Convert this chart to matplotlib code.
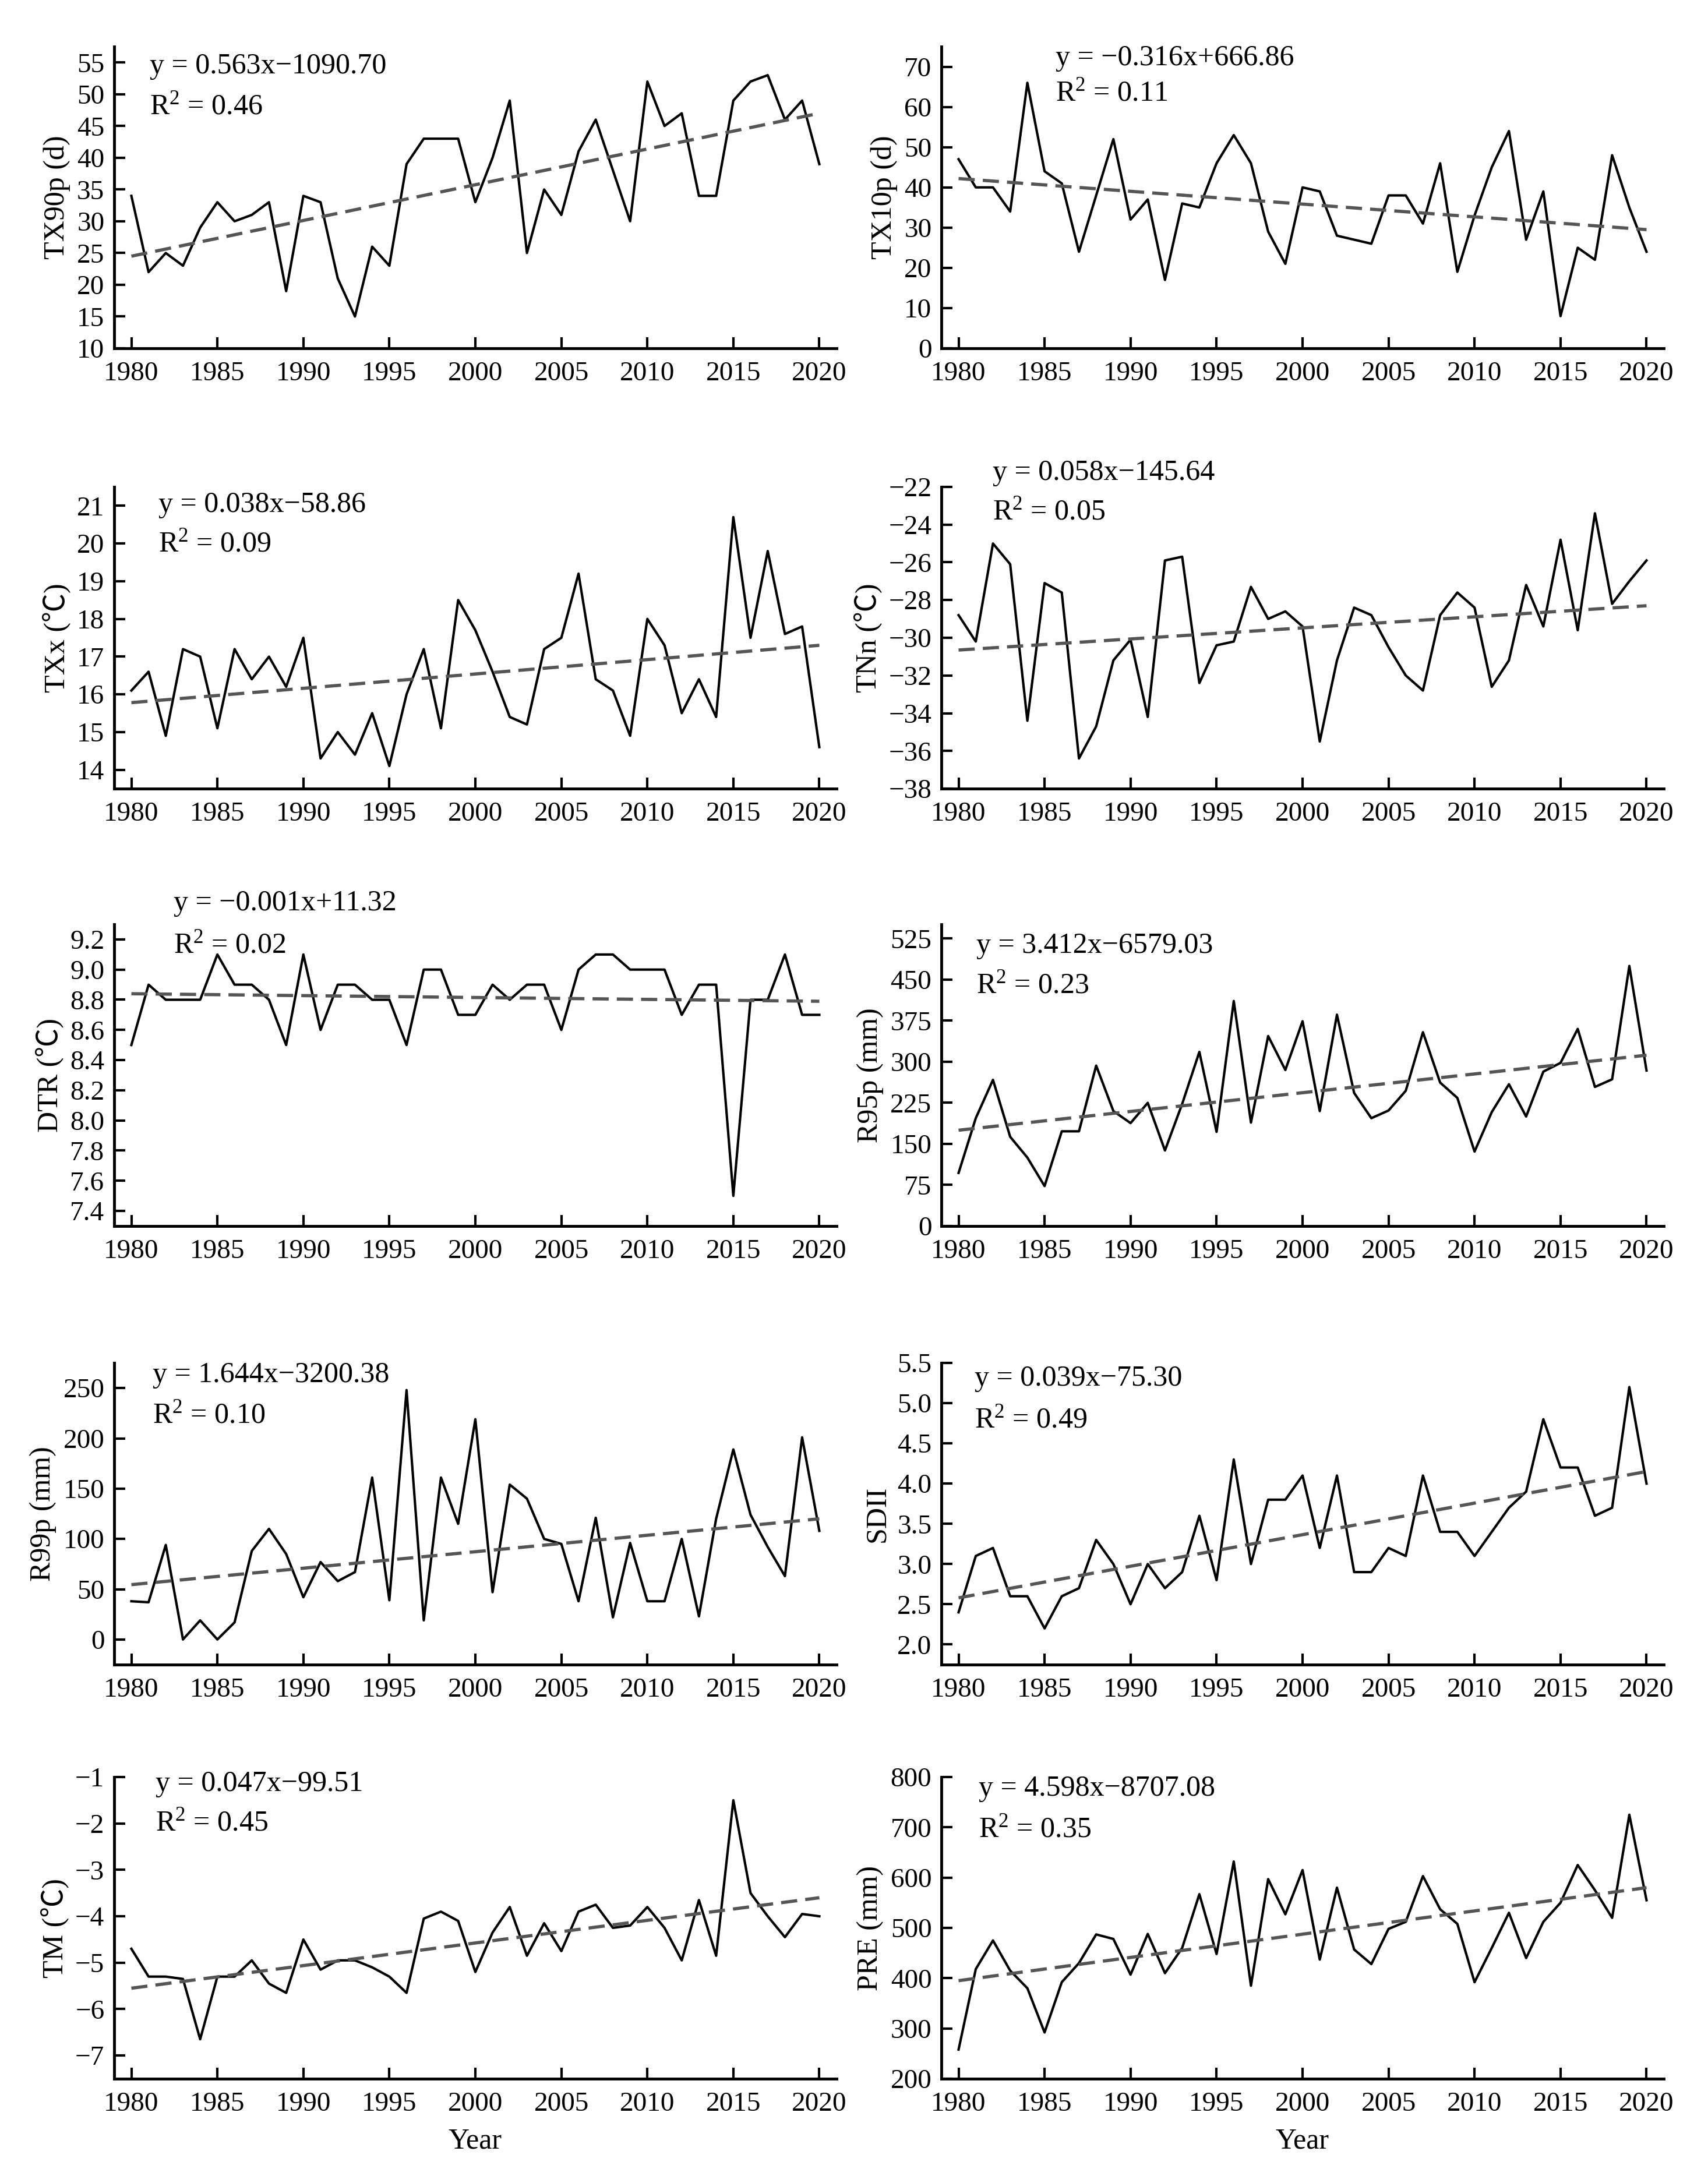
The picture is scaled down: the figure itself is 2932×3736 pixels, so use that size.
import numpy as np
import matplotlib
matplotlib.use("Agg")
import matplotlib.pyplot as plt

plt.rcParams["font.family"] = ["Liberation Serif", "Noto Sans CJK SC"]
plt.rcParams["axes.unicode_minus"] = True
plt.rcParams["mathtext.fontset"] = "custom"
plt.rcParams["mathtext.rm"] = "Liberation Serif"
plt.rcParams["mathtext.it"] = "Liberation Serif:italic"
plt.rcParams["mathtext.bf"] = "Liberation Serif:bold"

years = list(range(1980, 2021))

tx90p = [34, 22, 25, 23, 29, 33, 30, 31, 33, 19, 34, 33, 21, 15, 26, 23, 39, 43, 43, 43,
         33, 40, 49, 25, 35, 31, 41, 46, 38, 30, 52, 45, 47, 34, 34, 49, 52, 53, 46, 49, 39]
tx10p = [47, 40, 40, 34, 66, 44, 41, 24, 38, 52, 32, 37, 17, 36, 35, 46, 53, 46, 29, 21,
         40, 39, 28, 27, 26, 38, 38, 31, 46, 19, 33, 45, 54, 27, 39, 8, 25, 22, 48, 35, 24]
txx = [16.1, 16.6, 14.9, 17.2, 17.0, 15.1, 17.2, 16.4, 17.0, 16.2, 17.5, 14.3, 15.0, 14.4,
       15.5, 14.1, 16.0, 17.2, 15.1, 18.5, 17.7, 16.6, 15.4, 15.2, 17.2, 17.5, 19.2, 16.4,
       16.1, 14.9, 18.0, 17.3, 15.5, 16.4, 15.4, 20.7, 17.5, 19.8, 17.6, 17.8, 14.6]
tnn = [-28.8, -30.2, -25.0, -26.1, -34.4, -27.1, -27.6, -36.4, -34.7, -31.2, -30.1, -34.2,
       -25.9, -25.7, -32.4, -30.4, -30.2, -27.3, -29.0, -28.6, -29.4, -35.5, -31.2, -28.4,
       -28.8, -30.5, -32.0, -32.8, -28.8, -27.6, -28.4, -32.6, -31.2, -27.2, -29.4, -24.8,
       -29.6, -23.4, -28.2, -27.0, -25.9]
dtr = [8.5, 8.9, 8.8, 8.8, 8.8, 9.1, 8.9, 8.9, 8.8, 8.5, 9.1, 8.6, 8.9, 8.9, 8.8, 8.8, 8.5,
       9.0, 9.0, 8.7, 8.7, 8.9, 8.8, 8.9, 8.9, 8.6, 9.0, 9.1, 9.1, 9.0, 9.0, 9.0, 8.7, 8.9,
       8.9, 7.5, 8.8, 8.8, 9.1, 8.7, 8.7]
r95p = [97, 197, 267, 163, 125, 73, 173, 173, 293, 210, 188, 225, 138, 223, 318, 172, 411,
        189, 347, 285, 374, 210, 386, 243, 197, 211, 247, 354, 262, 234, 136, 208, 259, 200,
        282, 298, 360, 254, 268, 475, 284]
r99p = [38, 37, 94, 0, 19, 0, 17, 88, 110, 85, 42, 77, 58, 67, 161, 39, 248, 19, 161, 115,
        219, 47, 154, 140, 100, 95, 38, 121, 22, 96, 38, 38, 100, 23, 120, 189, 124, 92, 63,
        201, 108]
sdii = [2.4, 3.1, 3.2, 2.6, 2.6, 2.2, 2.6, 2.7, 3.3, 3.0, 2.5, 3.0, 2.7, 2.9, 3.6, 2.8, 4.3,
        3.0, 3.8, 3.8, 4.1, 3.2, 4.1, 2.9, 2.9, 3.2, 3.1, 4.1, 3.4, 3.4, 3.1, 3.4, 3.7, 3.9,
        4.8, 4.2, 4.2, 3.6, 3.7, 5.2, 4.0]
tm = [-4.7, -5.3, -5.3, -5.35, -6.65, -5.3, -5.3, -4.95, -5.45, -5.65, -4.5, -5.15, -4.95,
      -4.95, -5.1, -5.3, -5.65, -4.05, -3.9, -4.1, -5.2, -4.35, -3.8, -4.85, -4.15, -4.75,
      -3.9, -3.75, -4.25, -4.2, -3.8, -4.25, -4.95, -3.65, -4.85, -1.5, -3.5, -4.0, -4.45,
      -3.95, -4.0]
pre = [258, 418, 475, 415, 380, 292, 392, 430, 487, 478, 407, 488, 410, 460, 567, 448, 632,
       385, 597, 527, 615, 437, 580, 457, 428, 498, 512, 603, 537, 508, 392, 460, 530, 440,
       512, 550, 625, 575, 520, 725, 555]

# linear trend read at 1980 and 2020
trend_1980 = [24.5, 42.2, 15.78, -30.65, 8.84, 175, 54.5, 2.58, -5.55, 395]
trend_2020 = [47.0, 29.5, 17.3, -28.3, 8.79, 312, 120, 4.15, -3.6, 580]

equations = ["y = 0.563x\u22121090.70", "y = \u22120.316x+666.86", "y = 0.038x\u221258.86",
             "y = 0.058x\u2212145.64", "y = \u22120.001x+11.32", "y = 3.412x\u22126579.03",
             "y = 1.644x\u22123200.38", "y = 0.039x\u221275.30", "y = 0.047x\u221299.51",
             "y = 4.598x\u22128707.08"]
r2_values = ["0.46", "0.11", "0.09", "0.05", "0.02", "0.23", "0.10", "0.49", "0.45", "0.35"]

ylabels = ["TX90p (d)", "TX10p (d)", "TXx (\u2103)", "TNn (\u2103)", "DTR (\u2103)",
           "R95p (mm)", "R99p (mm)", "SDII", "TM (\u2103)", "PRE (mm)"]
yticks = [list(range(10, 56, 5)), list(range(0, 71, 10)), list(range(14, 22)),
          list(range(-38, -21, 2)), [7.4, 7.6, 7.8, 8.0, 8.2, 8.4, 8.6, 8.8, 9.0, 9.2],
          list(range(0, 526, 75)), list(range(0, 251, 50)),
          [2.0, 2.5, 3.0, 3.5, 4.0, 4.5, 5.0, 5.5], list(range(-7, 0)),
          list(range(200, 801, 100))]
tick_fmt = ["{:.0f}", "{:.0f}", "{:.0f}", "{:.0f}", "{:.1f}", "{:.0f}", "{:.0f}", "{:.1f}",
            "{:.0f}", "{:.0f}"]
ylims = [(10, 57.5), (0, 75), (13.5, 21.5), (-38, -22), (7.3, 9.3), (0, 551), (-25, 275),
         (1.75, 5.5), (-7.5, -1), (200, 800)]

series = [tx90p, tx10p, txx, tnn, dtr, r95p, r99p, sdii, tm, pre]

# text positions in axes fraction: (x, y_equation, y_r2)
text_pos = [(0.049, 0.934, 0.80), (0.158, 0.961, 0.844), (0.061, 0.94, 0.81),
            (0.071, 1.046, 0.917), (0.082, 1.07, 0.93), (0.048, 0.93, 0.797),
            (0.053, 0.96, 0.826), (0.046, 0.948, 0.81), (0.057, 0.977, 0.847),
            (0.052, 0.961, 0.826)]

W, H = 2932, 3736
col_x = [196, 1616]
ax_w = 1240
row_bottom = [598, 1354, 2105, 2858, 3569]
ax_h = 518

fig = plt.figure(figsize=(W / 100, H / 100), dpi=100)

for i, data in enumerate(series):
    row, col = divmod(i, 2)
    ax = fig.add_axes([col_x[col] / W, 1 - row_bottom[row] / H, ax_w / W, ax_h / H])
    ax.plot(years, data, color="black", lw=3.0)
    ax.plot([1980, 2020], [trend_1980[i], trend_2020[i]], color="#555555", lw=4,
            ls=(0, (5, 2.5)))

    ax.set_xlim(1979, 2021)
    ax.set_ylim(*ylims[i])
    ax.set_xticks(range(1980, 2021, 5))
    ax.set_yticks(yticks[i])
    ax.set_yticklabels([tick_fmt[i].format(v).replace("-", "\u2212") for v in yticks[i]])

    for s in ("top", "right"):
        ax.spines[s].set_visible(False)
    for s in ("left", "bottom"):
        ax.spines[s].set_linewidth(3.5)
    ax.tick_params(direction="in", length=14, width=3, labelsize=34, pad=12)
    ax.tick_params(axis="x", pad=16)
    ax.set_ylabel(ylabels[i], fontsize=36, labelpad=8)

    tx, ty_eq, ty_r2 = text_pos[i]
    ax.text(tx, ty_eq, equations[i], transform=ax.transAxes, fontsize=36, va="center",
            ha="left", clip_on=False)
    ax.text(tx, ty_r2, "R$^2$ = " + r2_values[i], transform=ax.transAxes, fontsize=36,
            va="center", ha="left")

    if row == 4:
        ax.set_xlabel("Year", fontsize=36, labelpad=14)

fig.savefig("out.png", dpi=100)
